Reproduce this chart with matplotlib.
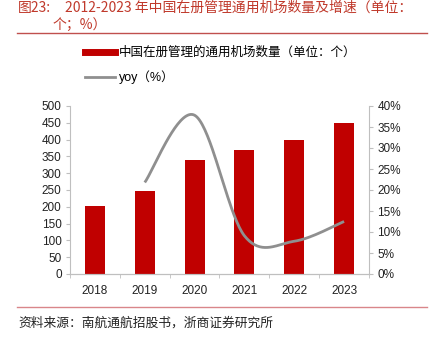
import numpy as np
import matplotlib
matplotlib.use('Agg')
import matplotlib.pyplot as plt
from matplotlib.lines import Line2D

plt.rcParams['font.family'] = ['Liberation Sans', 'Noto Sans CJK SC']

# data
years = ['2018', '2019', '2020', '2021', '2022', '2023']
airports = [202, 246, 339, 370, 399, 449]
yoy_years = ['2019', '2020', '2021', '2022', '2023']
yoy = [21.8, 37.8, 9.1, 7.8, 12.5]

bar_color = '#c00000'
line_color = '#8f8f8f'
axis_color = '#bfbfbf'


def smooth(xs, ys, sx, sy, n=40):
    # Catmull-Rom style bezier smoothing (like Excel's smoothed line), done in pixel-ish space
    px = np.asarray(xs, float) * sx
    py = np.asarray(ys, float) * sy
    pts = np.column_stack([px, py])
    out = []
    for i in range(len(pts) - 1):
        p0 = pts[i - 1] if i > 0 else pts[i]
        p1 = pts[i]
        p2 = pts[i + 1]
        p3 = pts[i + 2] if i + 2 < len(pts) else pts[i + 1]
        c1 = p1 + (p2 - p0) / 6
        c2 = p2 - (p3 - p1) / 6
        t = np.linspace(0, 1, n)[:, None]
        seg = (1 - t) ** 3 * p1 + 3 * (1 - t) ** 2 * t * c1 + 3 * (1 - t) * t ** 2 * c2 + t ** 3 * p2
        out.append(seg if i == 0 else seg[1:])
    out = np.vstack(out)
    return out[:, 0] / sx, out[:, 1] / sy


fig = plt.figure(figsize=(4.31, 3.45), dpi=100)
ax = fig.add_axes([70 / 431, 1 - 274 / 345, 299 / 431, 168 / 345])
ax2 = ax.twinx()

x = np.arange(len(years))
ax.bar(x, airports, width=0.4, color=bar_color, zorder=2)

xl = [years.index(y) for y in yoy_years]
sx_, sy_ = smooth(xl, yoy, 49.8, 167 / 40)
ax2.plot(sx_, sy_, color=line_color, lw=2, solid_capstyle='butt', zorder=3)

ax.set_xlim(-0.5, len(years) - 0.5)
ax.set_ylim(0, 500)
ax.set_yticks(np.arange(0, 501, 50))
ax2.set_ylim(0, 40)
ax2.set_yticks(np.arange(0, 41, 5))
ax2.set_yticklabels([f'{v}%' for v in range(0, 41, 5)])
ax.set_xticks(x)
ax.set_xticklabels(years)
ax.set_xticks(np.arange(-0.5, len(years), 1), minor=True)
ax.tick_params(axis='x', which='major', length=0, pad=8)
ax.tick_params(axis='x', which='minor', length=3, color=axis_color)

for a in (ax, ax2):
    a.spines['top'].set_visible(False)
    for s in ('left', 'right', 'bottom'):
        a.spines[s].set_color(axis_color)
    a.tick_params(axis='y', length=3, color=axis_color, labelsize=8.5, labelcolor='#222222', pad=3)
ax.tick_params(axis='x', labelsize=8.5, labelcolor='#222222')
ax2.spines['left'].set_visible(False)
ax.spines['right'].set_visible(False)

handles = [Line2D([0], [0], color=bar_color, lw=5),
           Line2D([0], [0], color=line_color, lw=2)]
labels = ['中国在册管理的通用机场数量（单位：个）', 'yoy（%）']
fig.legend(handles, labels, loc='upper left', bbox_to_anchor=(85 / 431, 1 - 47 / 345),
           frameon=False, fontsize=9, handlelength=2.4, handletextpad=0.3,
           labelspacing=0.9, borderpad=0, borderaxespad=0)

title_color = '#c0392b'
cjk = ['Noto Sans CJK SC', 'DejaVu Sans']
fig.text(18 / 431, 1 - 8 / 345, '图23:', color=title_color, fontsize=10,
         va='center', ha='left', family=cjk)
fig.text(65 / 431, 1 - 8 / 345, '2012-2023 年中国在册管理通用机场数量及增速（单位：',
         color=title_color, fontsize=10, va='center', ha='left', family=cjk)
fig.text(53 / 431, 1 - 25 / 345, '个；%）', color=title_color, fontsize=10,
         va='center', ha='left', family=cjk)
fig.add_artist(Line2D([17 / 431, 427 / 431], [1 - 33 / 345, 1 - 33 / 345],
                      color='#c0504d', lw=1))
fig.add_artist(Line2D([17 / 431, 427 / 431], [1 - 307 / 345, 1 - 307 / 345],
                      color='#d9868a', lw=1))
fig.text(18 / 431, 1 - 323 / 345, '资料来源：南航通航招股书，浙商证券研究所', color='#222222',
         fontsize=9.2, va='center', ha='left', family=cjk)

fig.savefig('out.png', dpi=100)
